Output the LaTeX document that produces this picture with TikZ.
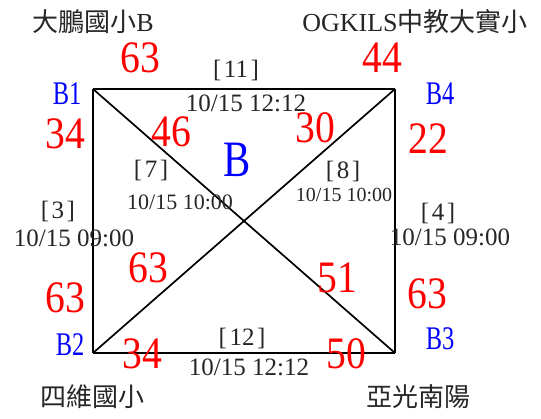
\documentclass[tikz,border=0pt]{standalone}
\usepackage{fontspec}
\setmainfont{Liberation Serif}
\newfontfamily\cjk{Noto Sans CJK TC}
\newfontfamily\numfont[FakeStretch=0.88]{Liberation Serif}
\newfontfamily\lblfont[FakeStretch=0.74]{Liberation Serif}
\newfontfamily\bigbfont[FakeStretch=0.8]{Liberation Serif}
\newcommand{\brk}[1]{[\kern2.5pt#1\kern2.5pt]}
\tikzset{
  edge/.style={draw=black, line width=1.7pt},
  num/.style={text=red, inner sep=0pt, font=\numfont\fontsize{45}{45}\selectfont},
  corner/.style={text=blue, inner sep=0pt, font=\lblfont\fontsize{33}{33}\selectfont},
  bigb/.style={text=blue, inner sep=0pt, font=\bigbfont\fontsize{51}{51}\selectfont},
  info/.style={text=black!85, inner sep=0pt, font=\fontsize{25}{25}\selectfont},
  infosmall/.style={text=black!85, inner sep=0pt, font=\fontsize{22}{22}\selectfont},
  infotiny/.style={text=black!85, inner sep=0pt, font=\fontsize{20}{20}\selectfont},
  school/.style={text=black!85, inner sep=0pt, font=\fontsize{26}{26}\selectfont}
}
\begin{document}
\begin{tikzpicture}[x=1pt,y=-1pt]
\path[use as bounding box] (0,0) rectangle (541,419);
% corners
\coordinate (P1) at (93,89);
\coordinate (P4) at (395,89);
\coordinate (P2) at (93,353);
\coordinate (P3) at (395,353);
% edges
\draw[edge] (P1) -- (P4);
\draw[edge] (P1) -- (P2);
\draw[edge] (P4) -- (P3);
\draw[edge] (P2) -- (P3);
\draw[edge] (P1) -- (P3);
\draw[edge] (P2) -- (P4);
% school names
\node[school] (s1) at (93,22) {{\cjk 大鵬國小}B};
\node[school] (s4) at (415,22) {OGKILS{\cjk 中教大實小}};
\node[school] (s2) at (92,397) {\cjk 四維國小};
\node[school] (s3) at (418,397) {\cjk 亞光南陽};
% corner labels
\node[corner] (b1) at (67,94) {B1};
\node[corner] (b4) at (440,94) {B4};
\node[corner] (b2) at (70,345) {B2};
\node[corner] (b3) at (440,339) {B3};
\node[bigb] (bb) at (237,160) {B};
% match info
\node[info] (m11) at (236,71) {\brk{11}};
\node[info] (d11) at (246,103) {10/15 12:12};
\node[info] (m7) at (151,171) {\brk{7}};
\node[infosmall] (d7) at (180,202) {10/15 10:00};
\node[info] (m8) at (343,172) {\brk{8}};
\node[infotiny] (d8) at (344,195) {10/15 10:00};
\node[info] (m3) at (58,212) {\brk{3}};
\node[info] (d3) at (74,238) {10/15 09:00};
\node[info] (m4) at (438,214) {\brk{4}};
\node[info] (d4) at (450,237) {10/15 09:00};
\node[info] (m12) at (242,339) {\brk{12}};
\node[info] (d12) at (249,367) {10/15 12:12};
% scores
\node[num] (n1) at (140,58) {63};
\node[num] (n2) at (382,58) {44};
\node[num] (n3) at (65,134) {34};
\node[num] (n4) at (171,132) {46};
\node[num] (n5) at (315,128) {30};
\node[num] (n6) at (428,139) {22};
\node[num] (n7) at (148,268) {63};
\node[num] (n8) at (337,278) {51};
\node[num] (n9) at (65,298) {63};
\node[num] (n10) at (427,294) {63};
\node[num] (n11) at (142,354) {34};
\node[num] (n12) at (346,354) {50};
\end{tikzpicture}
\end{document}
